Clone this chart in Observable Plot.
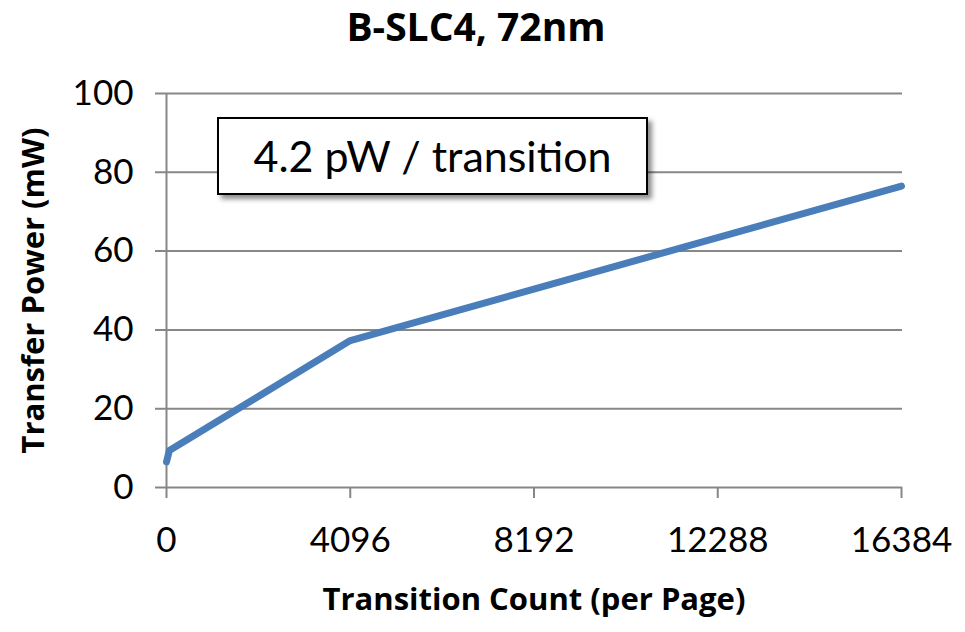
<!DOCTYPE html>
<html>
<head>
<meta charset="utf-8">
<script src="https://cdn.jsdelivr.net/npm/d3@7"></script>
<script src="https://cdn.jsdelivr.net/npm/@observablehq/plot@0.6"></script>
<style>
  html, body { margin: 0; padding: 0; background: #fff; }
  #wrap { position: relative; width: 965px; height: 632px; font-family: Lato, "Open Sans", sans-serif; }
  #title { position: absolute; left: 0; top: 6px; width: 952px; text-align: center; font-family: "Open Sans", Lato, sans-serif; font-weight: bold; font-size: 39px; line-height: 39px; color: #000; }
  #chart { position: absolute; left: 0; top: 56px; }
  #note { position: absolute; left: 217px; top: 117px; width: 427px; height: 74px; border: 2px solid #000; background: #fff;
          box-shadow: 4px 4px 5px rgba(0,0,0,0.45); text-align: center; font-size: 43px; line-height: 74px; color: #000; white-space: nowrap; }
</style>
</head>
<body>
<div id="wrap">
  <div id="title"></div>
  <div id="chart"></div>
  <div id="note"></div>
</div>
<script>
const titleText = "B-SLC4, 72nm";
const noteText = "4.2 pW / transition";
const xLabel = "Transition Count (per Page)";
const yLabel = "Transfer Power (mW)";

const transitionCount = [0, 64, 4096, 16384];
const transferPower = [6.5, 9.4, 37.3, 76.5];

const xTicks = [0, 4096, 8192, 12288, 16384];
const yTicks = [0, 20, 40, 60, 80, 100];

const data = transitionCount.map((c, i) => ({count: c, power: transferPower[i]}));

document.getElementById("title").textContent = titleText;
document.getElementById("note").textContent = noteText;

const gray = "#878787";
const boldFont = "'Open Sans', Lato, sans-serif";

const chart = Plot.plot({
  width: 965,
  height: 576,
  marginLeft: 166,
  marginRight: 64,
  marginTop: 37,
  marginBottom: 145,
  style: {fontFamily: "Lato, 'Open Sans', sans-serif", color: "#000", background: "#fff"},
  x: {domain: [0, 16384]},
  y: {domain: [0, 100]},
  marks: [
    Plot.ruleY(yTicks, {stroke: gray, strokeWidth: 2, insetLeft: -11, insetRight: -1}),
    Plot.ruleX([0], {stroke: gray, strokeWidth: 2}),
    Plot.axisY(yTicks, {tickSize: 0, tickPadding: 33, fontSize: 35, fill: "#000", label: null}),
    Plot.axisX(xTicks, {tickSize: 11, tickPadding: 29, fontSize: 35, stroke: gray, strokeWidth: 2, fill: "#000", label: null, tickFormat: d => String(d)}),
    Plot.line(data, {x: "count", y: "power", stroke: "#4a7ebb", strokeWidth: 7, strokeLinecap: "round", strokeLinejoin: "round"}),
    Plot.text([xLabel], {frameAnchor: "bottom", dy: 122, fontSize: 31, fontWeight: "bold", fontFamily: boldFont, fill: "#000", textAnchor: "middle"}),
    Plot.text([yLabel], {frameAnchor: "left", dx: -132, rotate: -90, fontSize: 31, fontWeight: "bold", fontFamily: boldFont, fill: "#000", textAnchor: "middle"})
  ]
});
document.getElementById("chart").appendChild(chart);
</script>
</body>
</html>
